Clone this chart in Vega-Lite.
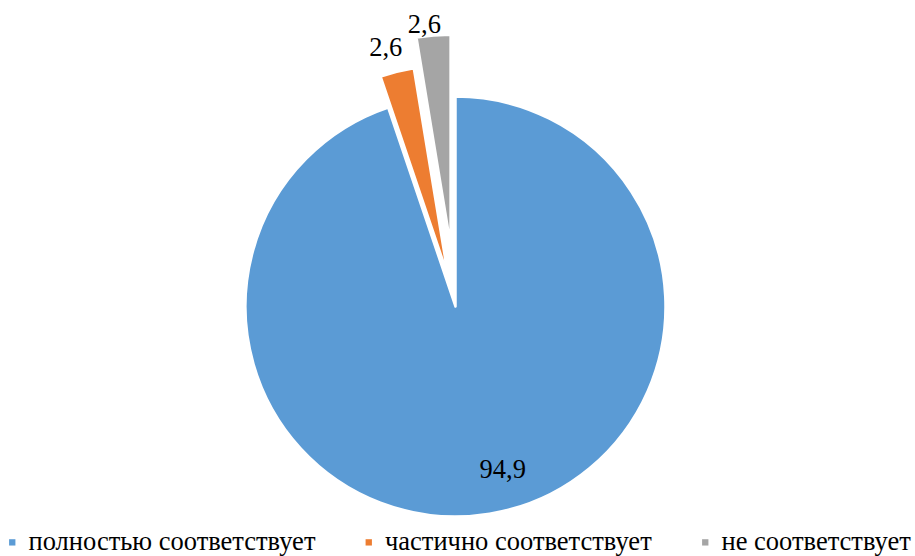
{
  "$schema": "https://vega.github.io/schema/vega-lite/v6.json",
  "width": 911,
  "height": 499,
  "autosize": "none",
  "padding": {"top": 57, "left": 0, "right": 4, "bottom": 0},
  "background": "white",
  "config": {
    "view": {"stroke": null},
    "font": "Liberation Serif",
    "legend": {"labelFont": "Liberation Serif, Times New Roman, DejaVu Serif, serif"}
  },
  "data": {
    "values": [
      {"category": "полностью соответствует", "value": 94.9, "label": "94,9", "order": 1},
      {"category": "частично соответствует", "value": 2.6, "label": "2,6", "order": 2},
      {"category": "не соответствует", "value": 2.6, "label": "2,6", "order": 3}
    ]
  },
  "transform": [
    {"stack": "value", "groupby": [], "sort": [{"field": "order", "order": "ascending"}], "as": ["v0", "v1"]},
    {"calculate": "(datum.v0 + datum.v1) / 2", "as": "mid"}
  ],
  "encoding": {
    "color": {
      "field": "category",
      "type": "nominal",
      "scale": {
        "domain": ["полностью соответствует", "частично соответствует", "не соответствует"],
        "range": ["#5B9BD5", "#ED7D31", "#A5A5A5"]
      },
      "legend": {
        "title": null,
        "orient": "none",
        "direction": "horizontal",
        "legendX": -1,
        "legendY": 472,
        "symbolType": "square",
        "symbolSize": 40,
        "symbolStrokeWidth": 0,
        "labelFont": "Liberation Serif, Times New Roman, DejaVu Serif, serif",
        "labelFontSize": 26.5,
        "labelColor": "#000000",
        "labelOffset": 3,
        "columnPadding": 39.5,
        "labelLimit": 0,
        "padding": 0
      }
    }
  },
  "layer": [
    {
      "transform": [{"filter": "datum.order == 1"}],
      "mark": {"type": "arc", "radius": 210, "stroke": "white", "strokeWidth": 2.5, "strokeJoin": "round"},
      "encoding": {
        "theta": {"field": "v0", "type": "quantitative", "stack": null, "scale": {"domain": [0, 100.1]}},
        "theta2": {"field": "v1"}
      }
    },
    {
      "transform": [{"filter": "datum.order == 2"}],
      "mark": {"type": "arc", "radius": 210, "stroke": "white", "strokeWidth": 2.5, "strokeJoin": "round", "xOffset": -7.6, "yOffset": -31.1},
      "encoding": {
        "theta": {"field": "v0", "type": "quantitative", "stack": null, "scale": {"domain": [0, 100.1]}},
        "theta2": {"field": "v1"}
      }
    },
    {
      "transform": [{"filter": "datum.order == 3"}],
      "mark": {"type": "arc", "radius": 210, "stroke": "white", "strokeWidth": 2.5, "strokeJoin": "round", "xOffset": -4.9, "yOffset": -61.8},
      "encoding": {
        "theta": {"field": "v0", "type": "quantitative", "stack": null, "scale": {"domain": [0, 100.1]}},
        "theta2": {"field": "v1"}
      }
    },
    {
      "transform": [{"filter": "datum.order == 1"}],
      "mark": {"type": "text", "radius": 168, "dx": 20, "dy": -2, "fontSize": 26.5, "font": "Liberation Serif", "baseline": "middle", "align": "center"},
      "encoding": {
        "theta": {"field": "mid", "type": "quantitative", "stack": null, "scale": {"domain": [0, 100.1]}},
        "text": {"field": "label"},
        "color": {"value": "#000000"}
      }
    },
    {
      "transform": [{"filter": "datum.order == 2"}],
      "mark": {"type": "text", "radius": 267, "dx": -5, "dy": 1, "fontSize": 26.5, "font": "Liberation Serif", "baseline": "middle", "align": "center"},
      "encoding": {
        "theta": {"field": "mid", "type": "quantitative", "stack": null, "scale": {"domain": [0, 100.1]}},
        "text": {"field": "label"},
        "color": {"value": "#000000"}
      }
    },
    {
      "transform": [{"filter": "datum.order == 3"}],
      "mark": {"type": "text", "radius": 283, "dx": -8, "dy": 1, "fontSize": 26.5, "font": "Liberation Serif", "baseline": "middle", "align": "center"},
      "encoding": {
        "theta": {"field": "mid", "type": "quantitative", "stack": null, "scale": {"domain": [0, 100.1]}},
        "text": {"field": "label"},
        "color": {"value": "#000000"}
      }
    }
  ]
}
